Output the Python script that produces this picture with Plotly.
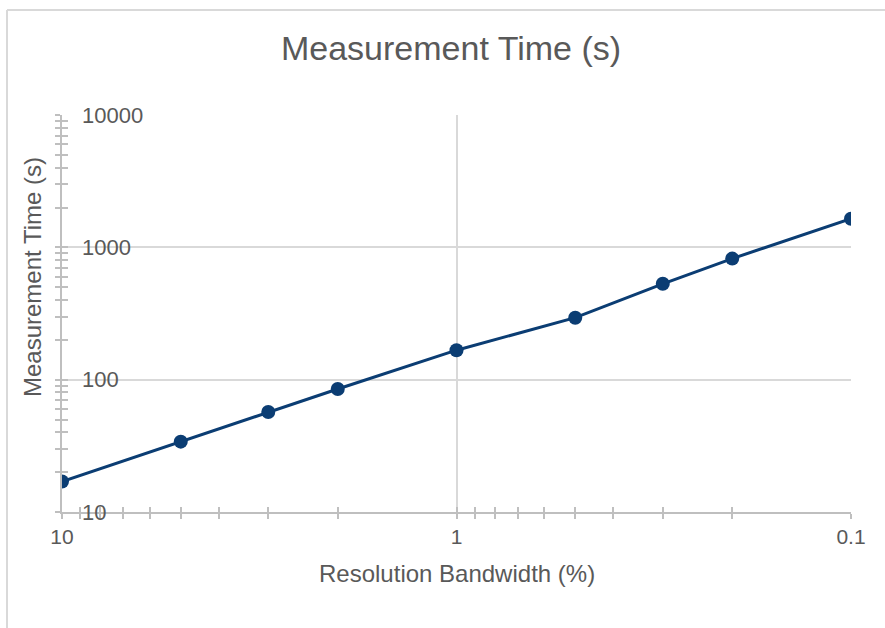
import plotly.graph_objects as go

# Data
rbw_pct = [10, 5, 3, 2, 1, 0.5, 0.3, 0.2, 0.1]
meas_time_s = [17, 34, 57, 85, 167, 294, 530, 822, 1644]

x_major = [10, 1, 0.1]
x_major_text = ["10", "1", "0.1"]
x_minor = [9, 8, 7, 6, 5, 4, 3, 2, 0.9, 0.8, 0.7, 0.6, 0.5, 0.4, 0.3, 0.2]
y_major = [10, 100, 1000, 10000]
y_major_text = ["10", "100", "1000", "10000"]
y_minor = [m * d for d in (10, 100, 1000) for m in range(2, 10)]

title_text = "Measurement Time (s)"
x_title = "Resolution Bandwidth (%)"
y_title = "Measurement Time (s)"

# body margin removed via post_script -> figure starts at page (0,0)
OFF = 0
W, H = 885, 628
L, T = 62 - OFF, 115 - OFF
pw, ph = 789, 397
R, B = W - L - pw, H - T - ph

TXT = "#595959"
AX = "#bfbfbf"
GRID = "#d9d9d9"
LINE = "#0b3d73"
FONT = "Liberation Sans, Arial, sans-serif"

fig = go.Figure()
fig.add_trace(go.Scatter(
    x=rbw_pct, y=meas_time_s, mode="lines+markers",
    line=dict(color=LINE, width=3),
    marker=dict(color=LINE, size=14),
    showlegend=False, hoverinfo="x+y",
))

XR = [1, -1]
YR = [1, 4]

fig.update_layout(
    width=W, height=H,
    margin=dict(l=L, r=R, t=T, b=B, autoexpand=False),
    paper_bgcolor="white", plot_bgcolor="white",
    font=dict(family=FONT, color=TXT),
    title=dict(text=title_text, x=(451 - OFF) / W, xref="container", xanchor="center",
               y=1 - (48 - OFF) / H, yref="container", yanchor="middle",
               font=dict(size=34, color=TXT, family=FONT)),
    xaxis=dict(
        type="log", range=XR,
        tickmode="array", tickvals=x_major, ticktext=x_major_text,
        ticks="outside", ticklen=5, tickwidth=1.5, tickcolor=AX,
        showline=True, linecolor=AX, linewidth=2,
        showgrid=True, gridcolor=GRID, gridwidth=1.5,
        tickfont=dict(size=21, color=TXT),
        minor=dict(tickmode="array", tickvals=x_minor, ticks="outside",
                   ticklen=5, tickwidth=1.5, tickcolor=AX, showgrid=False),
        zeroline=False,
    ),
    yaxis=dict(
        type="log", range=YR,
        tickmode="array", tickvals=y_major,
        ticks="outside", ticklen=5, tickwidth=1.5, tickcolor=AX,
        showticklabels=False,
        showline=True, linecolor=AX, linewidth=2,
        showgrid=True, gridcolor=GRID, gridwidth=1.5,
        minor=dict(tickmode="array", tickvals=y_minor, ticks="outside",
                   ticklen=5, tickwidth=1.5, tickcolor=AX, showgrid=False),
        zeroline=False,
    ),
    xaxis2=dict(
        overlaying="x", anchor="y", side="bottom", type="log", range=XR,
        showline=False, zeroline=False,
        tickmode="array", tickvals=x_major, ticks="inside", ticklen=5,
        tickwidth=1.5, tickcolor=AX, showticklabels=False, showgrid=False,
        minor=dict(tickmode="array", tickvals=x_minor, ticks="inside",
                   ticklen=5, tickwidth=1.5, tickcolor=AX, showgrid=False),
    ),
    yaxis2=dict(
        overlaying="y", anchor="x", side="left", type="log", range=YR,
        showline=False, zeroline=False,
        tickmode="array", tickvals=y_major, ticks="inside", ticklen=6,
        tickwidth=1.5, tickcolor=AX, showticklabels=False, showgrid=False,
        minor=dict(tickmode="array", tickvals=y_minor, ticks="inside",
                   ticklen=6, tickwidth=1.5, tickcolor=AX, showgrid=False),
    ),
    # y tick labels drawn to the right of the left axis line
    yaxis3=dict(
        overlaying="y", anchor="free", position=0, side="right", type="log",
        range=YR, showline=False, zeroline=False, showgrid=False,
        tickmode="array", tickvals=y_major, ticktext=y_major_text,
        ticks="", ticklabelstandoff=19,
        tickfont=dict(size=22, color=TXT),
    ),
)

# invisible traces to anchor the overlay axes
fig.add_trace(go.Scatter(x=[1], y=[100], xaxis="x2", yaxis="y2", mode="markers",
                         marker=dict(opacity=0), showlegend=False, hoverinfo="skip"))
fig.add_trace(go.Scatter(x=[1], y=[100], xaxis="x", yaxis="y3", mode="markers",
                         marker=dict(opacity=0), showlegend=False, hoverinfo="skip"))

def px_x(px):
    return (px - OFF - L) / pw

def px_y(py):
    return (T + ph - (py - OFF)) / ph

fig.add_annotation(text=y_title, x=px_x(32), y=px_y(277), xref="paper", yref="paper",
                   textangle=-90, showarrow=False, xanchor="center", yanchor="middle",
                   font=dict(size=24, color=TXT, family=FONT))
fig.add_annotation(text=x_title, x=px_x(457), y=px_y(573), xref="paper", yref="paper",
                   showarrow=False, xanchor="center", yanchor="middle",
                   font=dict(size=24, color=TXT, family=FONT))

# chart-area border (left and top edges visible in the reference)
fig.add_shape(type="line", xref="paper", yref="paper",
              x0=px_x(7), x1=px_x(7), y0=px_y(10), y1=px_y(660),
              line=dict(color=GRID, width=2))
fig.add_shape(type="line", xref="paper", yref="paper",
              x0=px_x(7), x1=px_x(920), y0=px_y(10), y1=px_y(10),
              line=dict(color=GRID, width=2))

fig.write_html(
    "out.html",
    config={"displayModeBar": False},
    post_script="document.body.style.margin='0px';document.body.style.overflow='hidden';",
)
